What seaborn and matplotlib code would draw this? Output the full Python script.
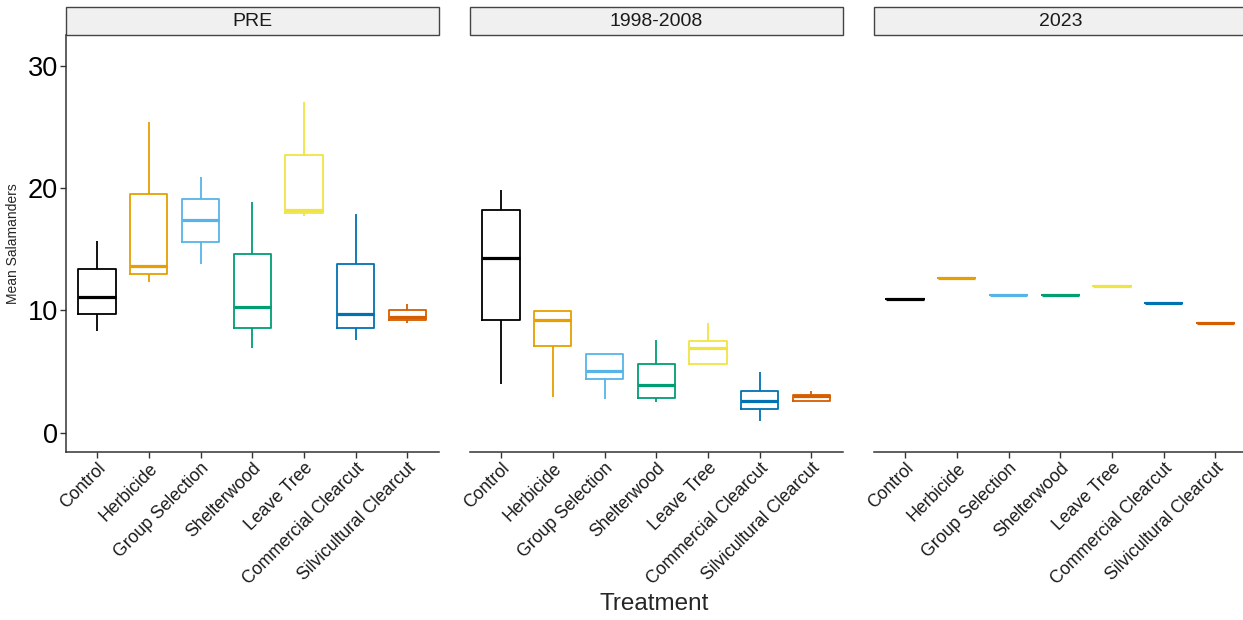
import numpy as np
import pandas as pd
import matplotlib
matplotlib.use("Agg")
import matplotlib.pyplot as plt
from matplotlib.patches import Rectangle
import seaborn as sns

treatments = ["Control", "Herbicide", "Group Selection", "Shelterwood",
              "Leave Tree", "Commercial Clearcut", "Silvicultural Clearcut"]
periods = ["PRE", "1998-2008", "2023"]
colors = ["#000000", "#E69F00", "#56B4E9", "#009E73", "#F0E442", "#0072B2", "#D55E00"]

# five-number summaries: low whisker, Q1, median, Q3, high whisker
pre_low  = [8.3, 12.3, 13.8, 6.9, 17.7, 7.6, 8.96]
pre_q1   = [9.7, 12.95, 15.6, 8.6, 17.97, 8.6, 9.2]
pre_med  = [11.1, 13.6, 17.4, 10.3, 18.25, 9.67, 9.45]
pre_q3   = [13.4, 19.5, 19.1, 14.6, 22.7, 13.8, 10.0]
pre_high = [15.7, 25.4, 20.9, 18.9, 27.1, 17.9, 10.5]

mid_low  = [4.0, 2.95, 2.76, 2.5, 5.63, 0.93, 2.57]
mid_q1   = [9.2, 7.05, 4.4, 2.84, 5.63, 1.9, 2.57]
mid_med  = [14.3, 9.2, 5.0, 3.93, 6.94, 2.62, 2.98]
mid_q3   = [18.2, 9.95, 6.45, 5.63, 7.5, 3.44, 3.11]
mid_high = [19.9, 9.95, 6.45, 7.6, 8.96, 4.94, 3.44]

val_2023 = [10.96, 12.65, 11.29, 11.29, 11.97, 10.6, 8.96]

rows = []
for summ, per in [((pre_low, pre_q1, pre_med, pre_q3, pre_high), "PRE"),
                  ((mid_low, mid_q1, mid_med, mid_q3, mid_high), "1998-2008")]:
    for i, t in enumerate(treatments):
        for arr in summ:
            rows.append({"Period": per, "Treatment": t, "Mean": arr[i]})
for i, t in enumerate(treatments):
    rows.append({"Period": "2023", "Treatment": t, "Mean": val_2023[i]})
df = pd.DataFrame(rows)

sns.set_theme(style="ticks")
plt.rcParams["font.family"] = ["Liberation Sans", "DejaVu Sans"]

fig = plt.figure(figsize=(12.43, 6.20), dpi=100)
W, H = 1243, 620
lefts = [66, 470, 874]
width = 372.5
top_px, bot_px = 35, 451.5
palette = dict(zip(treatments, colors))

axes = []
for k, per in enumerate(periods):
    ax = fig.add_axes([lefts[k] / W, 1 - bot_px / H, width / W, (bot_px - top_px) / H])
    axes.append(ax)
    sub = df[df["Period"] == per]
    sns.boxplot(data=sub, x="Treatment", y="Mean", hue="Treatment", order=treatments,
                hue_order=treatments, palette=palette, fill=False, dodge=False,
                legend=False, width=0.72, whis=(0, 100), showcaps=False,
                linewidth=1.3, medianprops={"linewidth": 2.3}, ax=ax)
    ax.set_xlim(-0.6, 6.6)
    ax.set_ylim(-1.55, 32.55)
    ax.set_xlabel("")
    ax.set_ylabel("")
    for s in ["top", "right"]:
        ax.spines[s].set_visible(False)
    ax.spines["bottom"].set_color("#333333")
    ax.spines["bottom"].set_linewidth(1.1)
    ax.tick_params(axis="x", length=4, width=1, color="#333333", pad=2)
    ax.set_xticks(range(len(treatments)))
    ax.set_xticklabels(treatments, rotation=45, ha="right", rotation_mode="anchor",
                       fontsize=12.7, color="#1a1a1a")
    if k == 0:
        ax.spines["left"].set_color("#333333")
        ax.spines["left"].set_linewidth(1.1)
        ax.set_yticks([0, 10, 20, 30])
        ax.tick_params(axis="y", labelsize=19.5, length=4, width=1, color="#333333",
                       labelcolor="#000000", pad=2)
        ax.set_ylabel("Mean Salamanders", fontsize=10, labelpad=5)
    else:
        ax.spines["left"].set_visible(False)
        ax.set_yticks([])
    # strip
    strip_h = 28 / (bot_px - top_px)
    ax.add_patch(Rectangle((0, 1.0), 1.0, strip_h, transform=ax.transAxes,
                           facecolor="#F0F0F0", edgecolor="#444444", linewidth=1.0,
                           clip_on=False))
    ax.text(0.5, 1.0 + strip_h / 2, per, transform=ax.transAxes, ha="center",
            va="center", fontsize=14, color="#1a1a1a")

fig.text(654 / W, 1 - 604 / H, "Treatment", ha="center", va="center", fontsize=17.5)

fig.savefig("out.png", dpi=100)
